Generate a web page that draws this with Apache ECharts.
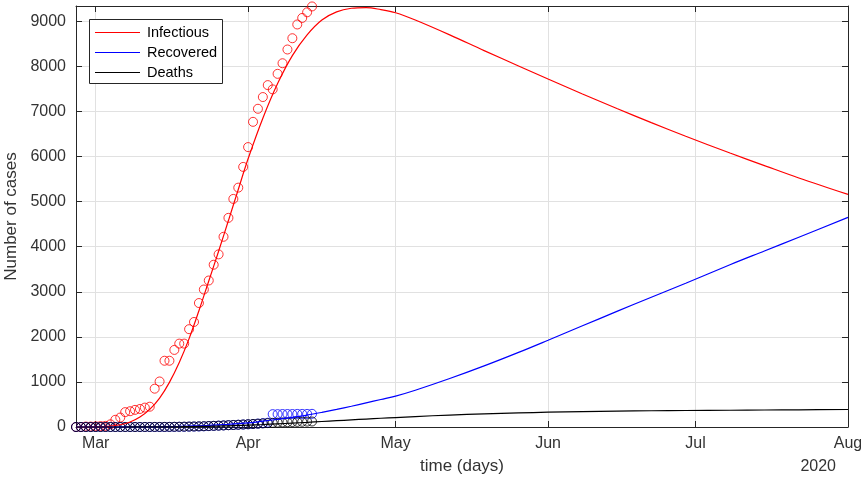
<!DOCTYPE html>
<html>
<head>
<meta charset="utf-8">
<script src="https://cdn.jsdelivr.net/npm/echarts@6/dist/echarts.min.js"></script>
<style>
html,body{margin:0;padding:0;background:#fff;}
#chart{width:861px;height:484px;}
</style>
</head>
<body>
<div id="chart"></div>
<script>
// ---- data ----
var obsDates = [
  '2020-02-26','2020-02-27','2020-02-28','2020-02-29',
  '2020-03-01','2020-03-02','2020-03-03','2020-03-04','2020-03-05','2020-03-06','2020-03-07','2020-03-08','2020-03-09','2020-03-10',
  '2020-03-11','2020-03-12','2020-03-13','2020-03-14','2020-03-15','2020-03-16','2020-03-17','2020-03-18','2020-03-19','2020-03-20',
  '2020-03-21','2020-03-22','2020-03-23','2020-03-24','2020-03-25','2020-03-26','2020-03-27','2020-03-28','2020-03-29','2020-03-30','2020-03-31',
  '2020-04-01','2020-04-02','2020-04-03','2020-04-04','2020-04-05','2020-04-06','2020-04-07','2020-04-08','2020-04-09','2020-04-10',
  '2020-04-11','2020-04-12','2020-04-13','2020-04-14'
];
var infectiousObs = [
  0,0,10,10,
  15,20,25,60,160,210,330,350,380,400,
  430,450,850,1010,1470,1470,1710,1850,1850,2170,
  2330,2750,3050,3250,3600,3830,4220,4640,5060,5310,5770,
  6210,6770,7060,7320,7585,7490,7835,8070,8375,8625,
  8930,9075,9200,9330
];
var recoveredObs = [
  0,0,0,0,
  0,0,0,0,0,0,0,0,0,0,
  0,0,0,0,0,2,3,5,5,8,
  10,12,15,20,25,30,35,40,45,50,55,
  60,65,75,85,95,285,285,288,288,288,
  290,290,290,292
];
var deathsObs = [
  0,0,0,0,
  0,0,0,0,0,0,0,0,0,0,
  1,1,2,2,3,3,5,6,8,10,
  12,15,18,22,26,30,35,40,45,50,56,
  62,68,74,80,86,92,97,102,106,110,
  113,116,119,122
];

var modelDates = [
  '2020-02-26','2020-03-01','2020-03-04','2020-03-06','2020-03-08','2020-03-10','2020-03-12','2020-03-14','2020-03-16','2020-03-18',
  '2020-03-20','2020-03-22','2020-03-24','2020-03-26','2020-03-28','2020-03-30','2020-04-01','2020-04-04','2020-04-07','2020-04-10',
  '2020-04-13','2020-04-16','2020-04-19','2020-04-22','2020-04-25','2020-04-28','2020-05-01','2020-05-05','2020-05-12','2020-05-19',
  '2020-05-26','2020-06-01','2020-06-08','2020-06-15','2020-06-22','2020-06-29','2020-07-08','2020-07-15','2020-07-22','2020-08-01'
];
var infectiousModel = [
  0,5,20,50,110,220,390,640,990,1430,
  1960,2580,3240,3900,4580,5270,5950,6850,7620,8240,
  8700,9030,9210,9290,9305,9260,9190,9030,8700,8350,
  8010,7720,7388,7065,6752,6450,6078,5800,5525,5160
];
var recoveredModel = [
  0,0,0,1,1,2,4,6,9,14,
  20,28,37,48,60,75,90,130,170,215,
  265,325,390,460,535,610,685,815,1075,1355,
  1655,1925,2245,2565,2880,3190,3600,3905,4210,4650
];
var deathsModel = [
  0,0,0,0,1,1,2,3,4,6,
  9,12,16,21,27,34,42,55,70,86,
  103,122,140,158,176,194,210,232,265,292,
  313,328,342,352,360,366,372,377,381,388
];

var monthTicks = ['2020-03-01','2020-04-01','2020-05-01','2020-06-01','2020-07-01','2020-08-01'];
var monthLabels = ['Mar','Apr','May','Jun','Jul','Aug'];
var yTicks = [0,1000,2000,3000,4000,5000,6000,7000,8000,9000];
var seriesNames = ['Infectious','Recovered','Deaths'];
var xStart = '2020-02-26';
var xEnd = '2020-08-01';
var yMax = 9340;

// ---- helpers ----
function ts(s){ return new Date(s + 'T00:00:00').getTime(); }
function pairs(dates, vals){ return dates.map(function(d,i){ return [ts(d), vals[i]]; }); }
var monthTs = monthTicks.map(ts);

var FONT = 'Liberation Sans, Arial, sans-serif';
var textColor = '#333333';
var frameColor = '#262626';
var gridColor = '#e1e1e1';
var colors = ['#ff0000','#0000ff','#000000'];

function scatter(vals, color){
  return {
    type:'scatter', data: pairs(obsDates, vals), symbol:'circle', symbolSize:9,
    itemStyle:{color:'rgba(0,0,0,0)', borderColor:color, borderWidth:1},
    silent:true, clip:false, z:2
  };
}
function line(name, vals, color){
  return {
    type:'line', name:name, data: pairs(modelDates, vals), showSymbol:false, symbol:'none',
    color:color,
    smooth:0.35, lineStyle:{color:color, width:1.2}, itemStyle:{color:color},
    silent:true, z:3
  };
}

// legend box drawn as graphic (box at upper-left of the plot)
var legendBox = {x:89, y:19, w:133, h:64, row0:32, rowGap:20, lineX0:95, lineX1:140, textX:147};
var legendGraphics = [{
  type:'rect', z:100, silent:true,
  shape:{x:legendBox.x + 0.5, y:legendBox.y + 0.5, width:legendBox.w, height:legendBox.h},
  style:{fill:'#ffffff', stroke:frameColor, lineWidth:1}
}];
seriesNames.forEach(function(n, i){
  var yy = legendBox.row0 + legendBox.rowGap * i;
  legendGraphics.push({
    type:'line', z:101, silent:true,
    shape:{x1:legendBox.lineX0, y1:yy + 0.5, x2:legendBox.lineX1, y2:yy + 0.5},
    style:{stroke:colors[i], lineWidth:1.2}
  });
  legendGraphics.push({
    type:'text', z:101, silent:true,
    style:{text:n, x:legendBox.textX, y:yy + 0.5, fill:'#000', fontSize:14.5, fontFamily:FONT,
      align:'left', verticalAlign:'middle'}
  });
});

var chart = echarts.init(document.getElementById('chart'), null, {renderer:'canvas'});
chart.setOption({
  animation:false,
  backgroundColor:'#ffffff',
  title:{text:'2020', right:25, top:459, padding:0,
    textStyle:{fontSize:16, fontWeight:'normal', color:textColor, fontFamily:FONT}},
  grid:{left:76, right:13, top:6, bottom:57, outerBoundsMode:'none', containLabel:false},
  graphic: legendGraphics,
  xAxis:[{
    type:'value', min:ts(xStart), max:ts(xEnd), position:'bottom',
    name:'time (days)', nameLocation:'middle', nameGap:31,
    nameTextStyle:{fontSize:17, color:textColor, fontFamily:FONT},
    axisLine:{show:true, onZero:false, lineStyle:{color:frameColor, width:1}},
    axisTick:{show:true, inside:true, length:6, customValues:monthTs, lineStyle:{color:frameColor}},
    axisLabel:{show:true, customValues:monthTs, margin:9, fontSize:16, color:textColor, fontFamily:FONT,
      formatter:function(v){ var i = monthTs.indexOf(v); return i>=0 ? monthLabels[i] : ''; }},
    splitLine:{show:true, lineStyle:{color:gridColor, width:1}}
  },{
    type:'value', min:ts(xStart), max:ts(xEnd), position:'top',
    axisLine:{show:true, onZero:false, lineStyle:{color:frameColor, width:1}},
    axisTick:{show:true, inside:true, length:6, customValues:monthTs, lineStyle:{color:frameColor}},
    axisLabel:{show:false, customValues:monthTs},
    splitLine:{show:false}
  }],
  yAxis:[{
    type:'value', min:0, max:yMax, interval:1000, position:'left',
    name:'Number of cases', nameLocation:'middle', nameGap:51,
    nameTextStyle:{fontSize:17, color:textColor, fontFamily:FONT},
    axisLine:{show:true, onZero:false, lineStyle:{color:frameColor, width:1}},
    axisTick:{show:true, inside:true, length:6, lineStyle:{color:frameColor}},
    axisLabel:{margin:10, fontSize:16, color:textColor, fontFamily:FONT,
      formatter:function(v){ return yTicks.indexOf(v)>=0 ? String(v) : ''; }},
    splitLine:{show:true, lineStyle:{color:gridColor, width:1}}
  },{
    type:'value', min:0, max:yMax, interval:1000, position:'right',
    axisLine:{show:true, onZero:false, lineStyle:{color:frameColor, width:1}},
    axisTick:{show:true, inside:true, length:6, lineStyle:{color:frameColor}},
    axisLabel:{show:false}, splitLine:{show:false}
  }],
  series:[
    scatter(infectiousObs, colors[0]),
    scatter(recoveredObs, colors[1]),
    scatter(deathsObs, colors[2]),
    line(seriesNames[0], infectiousModel, colors[0]),
    line(seriesNames[1], recoveredModel, colors[1]),
    line(seriesNames[2], deathsModel, colors[2])
  ]
});
</script>
</body>
</html>
